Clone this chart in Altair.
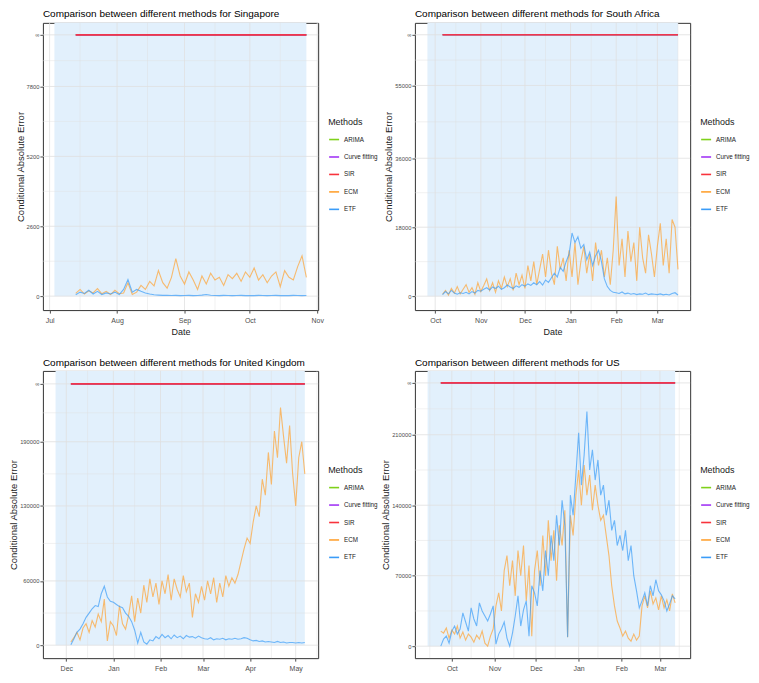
import altair as alt
import pandas as pd

METHODS = ["ARIMA", "Curve fitting", "SIR", "ECM", "ETF"]
COLORS = ["#7FD11B", "#A236F5", "#F8333C", "#FFA232", "#3A9CF8"]
SHADE = "#E2F0FC"
GRID = "#E0E0E0"
FONT = "Liberation Sans, Arial, sans-serif"

# ---------------- Singapore ----------------
SG_START = "2020-07-13"
SG_ECM = [100, 250, 80, 200, 120, 280, 90, 180, 60, 220, 90, 120, 500, 60, 150,
          400, 250, 550, 380, 950, 500, 300, 700, 1400, 750, 450, 900, 600, 250, 750,
          450, 850, 600, 700, 400, 800, 650, 850, 550, 900, 700, 1050, 600, 800, 500,
          750, 900, 350, 950, 700, 600, 1100, 1500, 700]
SG_ETF = [50, 150, 100, 220, 80, 180, 60, 120, 80, 150, 60, 250, 620, 150, 250,
          180, 120, 80, 50, 40, 30, 30, 25, 30, 20, 25, 30, 20, 25, 40,
          60, 35, 25, 20, 30, 25, 20, 25, 30, 20, 25, 20, 30, 25, 20,
          25, 30, 20, 25, 20, 30, 25, 20, 25]
SG_YTICKS = [0, 2600, 5200, 7800]
SG_INF = 9720
SG_YDOMAIN = [-518, 10166]
SG_XDOMAIN = ["2020-06-27 22:00", "2020-11-01 10:00"]
SG_SHADE_START = "2020-07-03 05:00"

# ---------------- South Africa ----------------
SA_START = "2020-10-06"
SA_ECM = [500, 1500, 300, 2000, 800, 2500, 600, 1800, 3000, 1000, 2200, 500, 3500,
          1200, 2800, 4500, 1500, 3500, 1000, 4000, 2000, 5000, 2500, 4500, 1500, 6000, 3000, 5500,
          2000, 8000, 4000, 9000, 3000, 7000, 11000, 5000, 12000, 6000, 3000, 13000, 7000, 10000, 4000, 12000,
          5000, 14000, 3000, 9000, 13000, 6000, 11000, 4000, 14000, 8000, 12000, 5000, 10000, 3000, 12000,
          26000, 8000, 15000, 5000, 17000, 9000, 14000, 4000, 18000, 10000, 6000, 16000, 11000, 5000,
          13000, 19000, 8000, 15000, 6000, 20000, 18000, 7000]
SA_ETF = [400, 1200, 600, 1500, 800, 500, 900, 700, 1000, 600, 1200, 800, 1500,
          1300, 1800, 2200, 1600, 2400, 2000, 2600, 1800, 2200, 2900, 2400, 2000, 2700, 2300, 3000,
          2600, 3200, 2800, 3500, 3000, 3800, 2900, 4200, 3600, 4800, 6000, 5000, 7500, 6500, 9000, 11000,
          16500, 14000, 15500, 12500, 13500, 9500, 11500, 8000, 10500, 12000, 9000, 4500, 2500, 1500, 1000,
          900, 700, 1100, 600, 800, 500, 700, 400, 600, 500, 800, 400, 600, 500,
          400, 600, 350, 500, 300, 700, 900, 300]
SA_YTICKS = [0, 18000, 36000, 55000]
SA_INF = 68230
SA_YDOMAIN = [-3632, 71340]
SA_XDOMAIN = ["2020-09-17 05:00", "2021-03-23 07:00"]
SA_SHADE_START = "2020-09-25 17:00"

# ---------------- United Kingdom ----------------
UK_START = "2020-12-04"
UK_ECM = [3000, 7000, 12000, 5000, 16000, 20000, 12000, 23000, 17000, 29000, 22000, 43000, 4000, 22000,
          18000, 9000, 37000, 20000, 15000, 28000, 46000, 22000, 44000, 30000, 56000, 40000, 62000, 45000, 58000, 38000,
          60000, 48000, 66000, 42000, 62000, 52000, 45000, 65000, 50000, 58000, 26000, 48000, 40000, 55000,
          42000, 60000, 48000, 63000, 40000, 58000, 45000, 65000, 55000, 63000, 58000, 66000, 78000, 90000, 100000,
          95000, 115000, 130000, 120000, 155000, 140000, 180000, 150000, 200000, 175000, 222000, 195000, 170000, 205000, 160000,
          130000, 175000, 190000, 160000]
UK_ETF = [500, 6000, 12000, 15000, 20000, 26000, 30000, 34000, 37000, 36000, 48000, 55000, 45000, 41000,
          40000, 38000, 36000, 35000, 30000, 27000, 22000, 14000, 2000, 12000, 3000, 1000, 5000, 4000, 8000, 6000,
          10000, 7000, 9000, 6000, 9500, 7000, 8500, 6000, 9000, 7500, 8000, 6500, 8500, 7000,
          6000, 5500, 7000, 5000, 6000, 5500, 6500, 5000, 6000, 5500, 6500, 5500, 6000, 7000, 6500,
          5000, 4000, 4500, 3500, 4000, 3000, 3500, 3000, 2500, 3500, 2500, 3000, 2000, 2500, 2500,
          2000, 2500, 2000, 2500]
UK_YTICKS = [0, 60000, 130000, 190000]
UK_INF = 244000
UK_YDOMAIN = [-12100, 256100]
UK_XDOMAIN = ["2020-11-15 14:00", "2021-05-15 19:00"]
UK_SHADE_START = "2020-11-23 22:00"

# ---------------- US ----------------
US_START = "2020-09-23"
US_ECM = [15000, 13000, 18000, 8000,
          16000, 12000, 20000, 8000, 14000, 6000, 12000, 9000, 4000, 11000, 7000, 15000, 3000, 0, 10000, 17000,
          40000, 53000, 35000, 75000, 90000, 60000, 85000, 50000, 95000, 70000, 100000, 45000, 80000, 10000, 75000,
          95000, 60000, 110000, 70000, 125000, 85000, 115000, 65000, 120000, 100000, 135000, 9000, 130000, 110000, 150000,
          175000, 140000, 180000, 150000, 170000, 135000, 160000, 140000, 125000, 130000, 110000, 90000, 60000, 40000, 25000, 18000,
          10000, 15000, 8000, 5000, 12000, 6000, 10000, 40000, 50000, 38000, 55000, 42000, 48000, 36000,
          50000, 38000, 46000, 35000, 52000, 43000]
US_ETF = [0, 7000, 10000, 3000,
          15000, 20000, 12000, 17000, 33000, 24000, 15000, 38000, 27000, 20000, 43000, 35000, 30000, 25000, 32000, 40000,
          2000, 12000, 17000, 24000, 8000, 0, 13000, 30000, 50000, 20000, 36000, 45000, 10000, 60000, 53000,
          40000, 75000, 55000, 95000, 70000, 110000, 85000, 130000, 100000, 145000, 120000, 9000, 150000, 130000, 170000,
          212000, 160000, 190000, 233000, 175000, 195000, 165000, 185000, 150000, 160000, 130000, 145000, 115000, 125000, 100000, 110000,
          95000, 115000, 85000, 100000, 70000, 55000, 38000, 45000, 53000, 40000, 60000, 50000, 66000, 55000,
          51000, 45000, 35000, 42000, 50000, 47000]
US_YTICKS = [0, 70000, 140000, 210000]
US_INF = 261500
US_YDOMAIN = [-11890, 273400]
US_XDOMAIN = ["2020-09-04 05:00", "2021-03-22 22:00"]
US_SHADE_START = "2020-09-13 10:00"

W, H = 276, 288


def dt(ts):
    ts = pd.Timestamp(ts)
    return alt.DateTime(year=ts.year, month=ts.month, date=ts.day,
                        hours=ts.hour, minutes=ts.minute)


def make_panel(country, start, ecm, etf, yticks, yinf, ydomain, xdomain, shade_start, show_xtitle):
    dates = pd.date_range(start, periods=len(ecm), freq="2D")
    series = pd.DataFrame({
        "date": list(dates) + list(dates),
        "value": list(ecm) + list(etf),
        "method": ["ECM"] * len(ecm) + ["ETF"] * len(etf),
    })
    flat_methods = ["ARIMA", "Curve fitting", "SIR"]
    flat = pd.DataFrame({
        "date": [dates[0], dates[-1]] * 3,
        "value": [yinf] * 6,
        "method": [m for m in flat_methods for _ in range(2)],
    })
    shade = pd.DataFrame({"start": [pd.Timestamp(shade_start)], "end": [dates[-1]], "base": [0]})

    x0, x1 = pd.Timestamp(xdomain[0]), pd.Timestamp(xdomain[1])
    vg = pd.date_range(x0.normalize(), x1, freq="SMS")
    vg = [d for d in vg if x0 <= d <= x1]
    months = [d for d in vg if d.day == 1]
    vgrid = pd.DataFrame({"g": vg, "w": [0.8 if d.day == 1 else 0.45 for d in vg]})
    hv = list(yticks) + [yinf]
    hgrid = pd.DataFrame({
        "g": hv + [(a + b) / 2 for a, b in zip(hv[:-1], hv[1:])],
        "w": [0.8] * len(hv) + [0.45] * (len(hv) - 1),
    })

    xs = alt.Scale(domain=[dt(x0), dt(x1)])
    ys = alt.Scale(domain=ydomain, nice=False, zero=False)
    cs = alt.Scale(domain=METHODS, range=COLORS)
    xaxis_kw = dict(values=[dt(m) for m in months], format="%b",
                    grid=False, domain=False, tickSize=3, tickColor="#4D4D4D",
                    labelFont=FONT, labelFontSize=7, labelColor="#4D4D4D",
                    labelPadding=3, labelFlush=False, labelOverlap=False)
    if show_xtitle:
        xaxis = alt.Axis(title="Date", titleFont=FONT, titleFontSize=9,
                         titleFontWeight="normal", titleColor="#1A1A1A",
                         titlePadding=4, **xaxis_kw)
    else:
        xaxis = alt.Axis(title=None, **xaxis_kw)
    yaxis = alt.Axis(values=hv, title="Conditional Absolute Error",
                     labelExpr=f"datum.value >= {yinf} ? '\u221e' : format(datum.value, 'd')",
                     grid=False, domain=False, tickSize=3, tickColor="#4D4D4D",
                     labelFont=FONT, labelFontSize=5.8, labelColor="#4D4D4D",
                     labelPadding=1, labelOverlap=False,
                     titleFont=FONT, titleFontSize=9.5, titleFontWeight="normal",
                     titleColor="#1A1A1A", titlePadding=1)
    leg = alt.Legend(title="Methods", orient="none", legendX=W + 10, legendY=95,
                     symbolType="stroke", symbolSize=100, symbolStrokeWidth=1.6,
                     symbolOpacity=1, labelFont=FONT, labelFontSize=6.3,
                     labelColor="#1A1A1A", titleFont=FONT, titleFontSize=9,
                     titleFontWeight="normal", titleColor="#1A1A1A",
                     rowPadding=7.5, titlePadding=7, labelOffset=4)

    shade_l = alt.Chart(shade).mark_rect(color=SHADE).encode(
        x=alt.X("start:T", scale=xs, axis=xaxis),
        x2="end:T",
        y=alt.Y("base:Q", scale=ys, axis=yaxis),
        y2=alt.value(0),
    )
    vgrid_l = alt.Chart(vgrid).mark_rule(color=GRID).encode(
        x=alt.X("g:T", scale=xs, axis=xaxis),
        strokeWidth=alt.StrokeWidth("w:Q", scale=None),
    )
    hgrid_l = alt.Chart(hgrid).mark_rule(color=GRID).encode(
        y=alt.Y("g:Q", scale=ys, axis=yaxis),
        strokeWidth=alt.StrokeWidth("w:Q", scale=None),
    )
    flat_l = alt.Chart(flat).mark_line(strokeWidth=1.6, opacity=0.9).encode(
        x=alt.X("date:T", scale=xs, axis=xaxis),
        y=alt.Y("value:Q", scale=ys, axis=yaxis),
        color=alt.Color("method:N", scale=cs, legend=leg),
    )
    series_l = alt.Chart(series).mark_line(strokeWidth=1.1, opacity=0.7).encode(
        x=alt.X("date:T", scale=xs, axis=xaxis),
        y=alt.Y("value:Q", scale=ys, axis=yaxis),
        color=alt.Color("method:N", scale=cs, legend=leg),
    )
    return alt.layer(shade_l, vgrid_l, hgrid_l, flat_l, series_l).properties(
        width=W, height=H,
        title=alt.TitleParams(f"Comparison between different methods for {country}",
                              anchor="start", frame="group", font=FONT,
                              fontSize=10, fontWeight="normal", color="#000000",
                              offset=3),
    )


p1 = make_panel("Singapore", SG_START, SG_ECM, SG_ETF, SG_YTICKS, SG_INF, SG_YDOMAIN, SG_XDOMAIN, SG_SHADE_START, True)
p2 = make_panel("South Africa", SA_START, SA_ECM, SA_ETF, SA_YTICKS, SA_INF, SA_YDOMAIN, SA_XDOMAIN, SA_SHADE_START, True)
p3 = make_panel("United Kingdom", UK_START, UK_ECM, UK_ETF, UK_YTICKS, UK_INF, UK_YDOMAIN, UK_XDOMAIN, UK_SHADE_START, False)
p4 = make_panel("US", US_START, US_ECM, US_ETF, US_YTICKS, US_INF, US_YDOMAIN, US_XDOMAIN, US_SHADE_START, False)

chart = alt.concat(
    p1, p2, p3, p4, columns=2, bounds="flush",
    spacing={"row": 61, "column": 97},
).resolve_scale(
    x="independent", y="independent", color="independent"
).resolve_legend(
    color="independent"
).properties(
    padding={"left": 0, "top": 0, "right": 0, "bottom": 0},
    background="white",
).configure_view(
    stroke="#333333", strokeWidth=1
)

chart.save("out.html", embed_options={"renderer": "svg", "actions": False})
